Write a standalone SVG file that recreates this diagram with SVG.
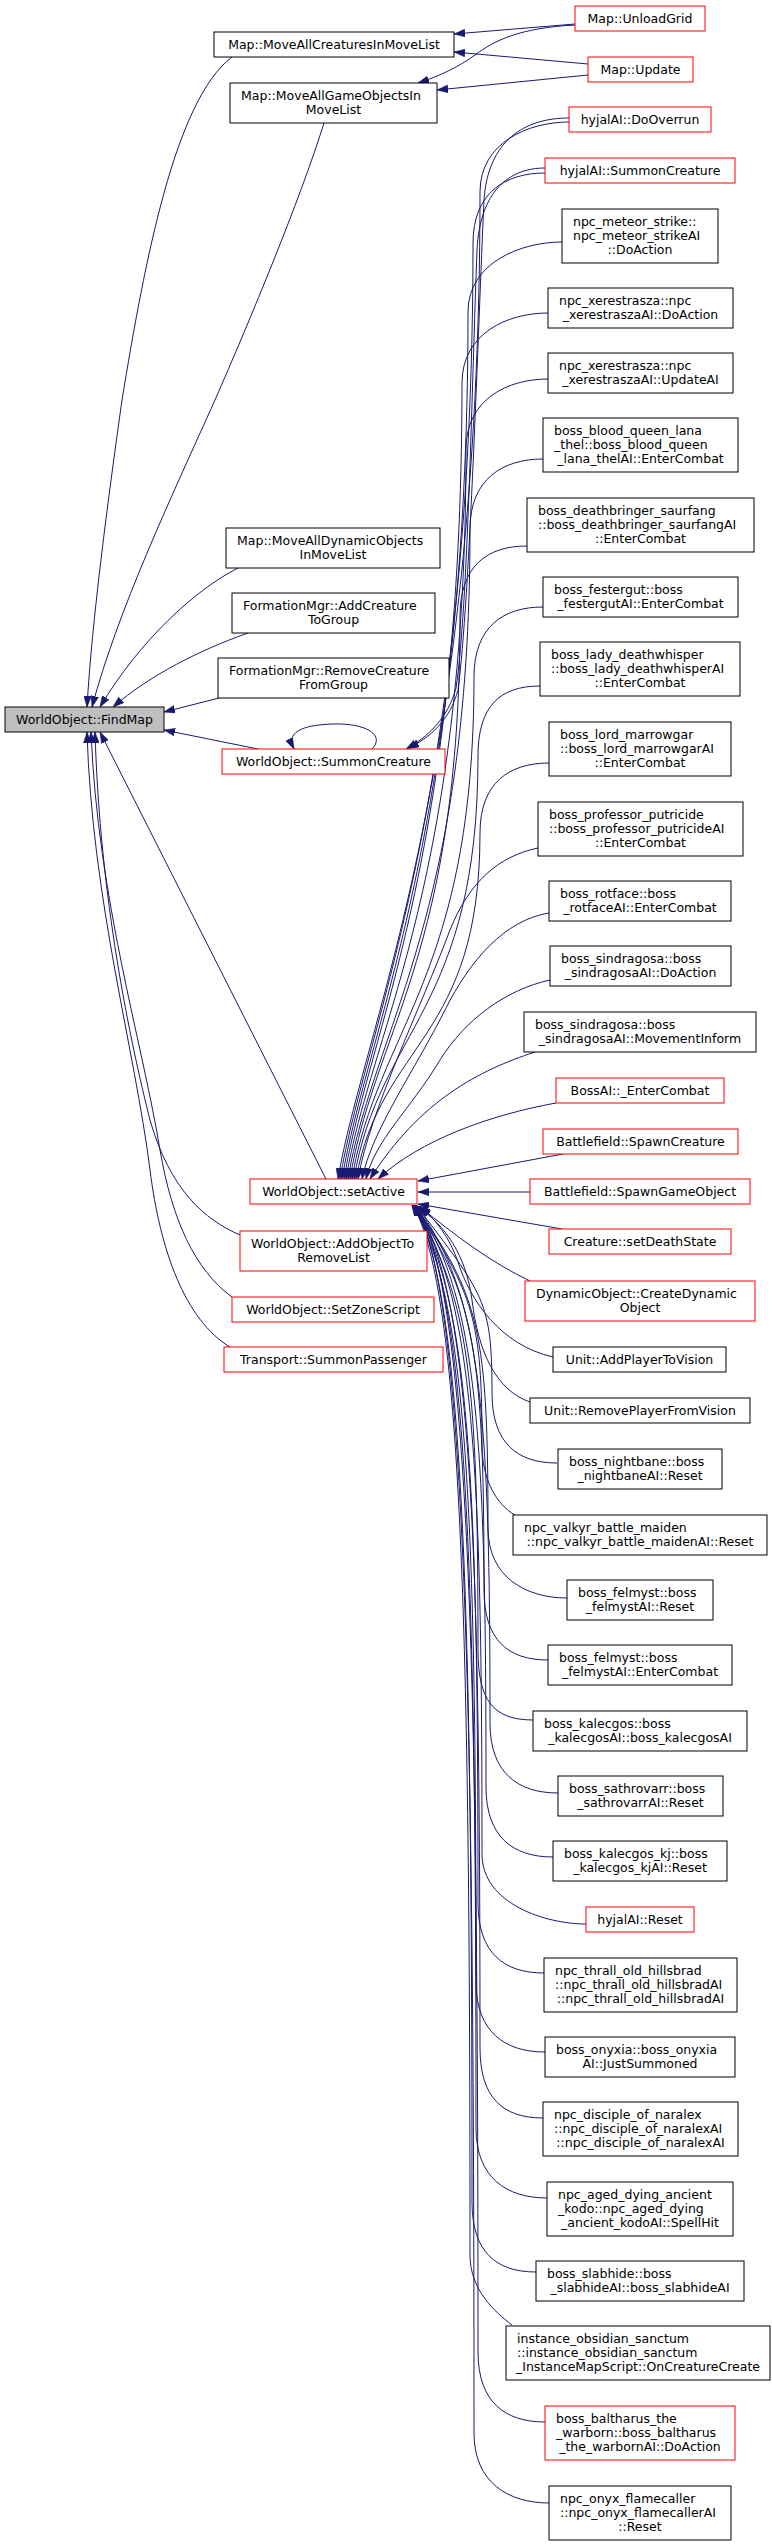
<svg xmlns="http://www.w3.org/2000/svg" width="772" height="2547" viewBox="0 0 772 2547">
<style>
rect{fill:#fff;stroke:#000;stroke-width:1}
.r rect{stroke:#f00}
.g rect{fill:#bfbfbf}
text{font-family:"DejaVu Sans",sans-serif;font-size:12.5px;fill:#000}
.c{text-anchor:middle}
#edges path{fill:none;stroke:#191970;stroke-width:1;marker-end:url(#ah)}
</style>
<defs>
<marker id="ah" markerUnits="userSpaceOnUse" markerWidth="11" markerHeight="8" viewBox="0 0 10 7" refX="10" refY="3.5" orient="auto">
<path d="M0,0 L10,3.5 L0,7 Z" fill="#191970" stroke="#191970" stroke-width="0.5"/>
</marker>
</defs>
<rect x="0" y="0" width="772" height="2547" style="fill:#fff;stroke:none"/>
<g id="edges">
<path d="M575,24 L454,34"/>
<path d="M575,25 C520,28 495,40 475,55 C460,66 440,76 418,83"/>
<path d="M588,64 L454,52"/>
<path d="M588,75 L437,90"/>
<path d="M232,57 C175,100 145,260 122,400 C108,500 92,620 87,707"/>
<path d="M324,123 C300,200 250,320 215,400 C170,500 118,610 92,707"/>
<path d="M238,568 C195,590 140,640 100,707"/>
<path d="M248,633 C200,650 150,675 113,707"/>
<path d="M219,698 L164,712"/>
<path d="M258,749 L164,730"/>
<path d="M372,749 C385,736 368,723 333,724 C300,725 286,733 294,749"/>
<path d="M569,118 C525,118 488,140 484,200 C478,330 470,600 458,690 C450,720 430,738 408,748"/>
<path d="M545,168 C510,168 480,190 477,250 C472,380 468,610 456,688 C448,718 428,737 406,749"/>
<path d="M326,1179 L100,732"/>
<path d="M240,1235 C205,1220 170,1190 150,1120 C130,1040 100,900 95,732"/>
<path d="M232,1297 C195,1270 172,1220 160,1150 C142,1040 98,900 91,732"/>
<path d="M230,1347 C185,1320 160,1250 150,1170 C135,1050 92,900 87,732"/>
<path d="M569,122 C529,122 480,142 480,192 C480,784 363,1029 338,1179"/>
<path d="M545,173 C505,173 473,193 473,243 C473,805 365,1029 340,1179"/>
<path d="M562,242 C522,242 468,262 468,312 C468,832 367,1029 342,1179"/>
<path d="M548,313 C508,313 462,333 462,383 C462,861 369,1029 344,1179"/>
<path d="M548,379 C508,379 466,399 466,449 C466,887 371,1029 346,1179"/>
<path d="M543,459 C503,459 470,479 470,529 C470,919 373,1029 348,1179"/>
<path d="M527,546 C487,546 460,566 460,616 C460,954 375,1029 350,1179"/>
<path d="M543,607 C503,607 474,627 474,677 C474,978 377,1029 352,1179"/>
<path d="M540,686 C500,686 478,706 478,756 C478,1010 379,1029 354,1179"/>
<path d="M549,763 C509,763 480,783 480,833 C480,1041 381,1041 356,1179"/>
<path d="M538,848 C500,856 470,880 450,930 C420,1010 370,1110 358,1179"/>
<path d="M549,913 C505,920 470,960 445,1010 C415,1070 372,1130 362,1179"/>
<path d="M550,980 C505,990 465,1020 440,1060 C410,1110 375,1140 366,1179"/>
<path d="M535,1052 C480,1070 420,1100 370,1179"/>
<path d="M556,1103 C490,1115 420,1140 378,1179"/>
<path d="M563,1154 L418,1181"/>
<path d="M530,1192 L418,1192"/>
<path d="M562,1229 L418,1204"/>
<path d="M530,1281 C490,1262 455,1235 420,1207"/>
<path d="M553,1357 C500,1345 470,1300 458,1262 C450,1238 435,1218 419,1206"/>
<path d="M530,1402 C495,1390 478,1350 472,1300 C466,1255 445,1225 418,1207"/>
<path d="M557,1463 C517,1463 492,1443 492,1393 C492,1300 484,1295 416,1205"/>
<path d="M515,1515 C497,1505 482,1480 482,1445 C482,1320 474,1295 415,1205"/>
<path d="M567,1598 C527,1598 488,1578 488,1528 C488,1334 480,1295 414,1205"/>
<path d="M548,1660 C508,1660 484,1640 484,1590 C484,1359 476,1295 413,1205"/>
<path d="M533,1720 C493,1720 478,1700 478,1650 C478,1383 470,1295 412,1205"/>
<path d="M558,1793 C518,1793 490,1773 490,1723 C490,1412 482,1295 416,1205"/>
<path d="M553,1857 C513,1857 486,1837 486,1787 C486,1438 478,1295 415,1205"/>
<path d="M586,1924 C546,1924 482,1904 482,1854 C482,1465 474,1295 414,1205"/>
<path d="M544,1973 C504,1973 478,1953 478,1903 C478,1484 470,1295 413,1205"/>
<path d="M545,2052 C505,2052 476,2032 476,1982 C476,1516 468,1295 412,1205"/>
<path d="M543,2118 C503,2118 480,2098 480,2048 C480,1542 472,1295 416,1205"/>
<path d="M547,2198 C507,2198 476,2178 476,2128 C476,1574 468,1295 415,1205"/>
<path d="M536,2272 C496,2272 472,2252 472,2202 C472,1604 464,1295 414,1205"/>
<path d="M512,2325 C495,2312 470,2290 470,2255 C470,1625 462,1295 413,1205"/>
<path d="M545,2422 C505,2422 478,2402 478,2352 C478,1664 470,1295 416,1205"/>
<path d="M549,2503 C509,2503 474,2483 474,2433 C474,1696 466,1295 415,1205"/>
</g>
<g id="n1" class="r"><rect x="575" y="6" width="130" height="25"/><text class="c" x="640" y="23">Map::UnloadGrid</text></g>
<g id="n2"><rect x="214" y="32" width="240" height="25"/><text class="c" x="334" y="49">Map::MoveAllCreaturesInMoveList</text></g>
<g id="n3" class="r"><rect x="588" y="57" width="105" height="25"/><text class="c" x="640.5" y="74">Map::Update</text></g>
<g id="n4"><rect x="230" y="83" width="207" height="40"/><text x="241" y="99.5">Map::MoveAllGameObjectsIn</text><text class="c" x="333.5" y="114">MoveList</text></g>
<g id="n5" class="r"><rect x="569" y="107" width="142" height="25"/><text class="c" x="640" y="124">hyjalAI::DoOverrun</text></g>
<g id="n6" class="r"><rect x="545" y="158" width="190" height="25"/><text class="c" x="640" y="175">hyjalAI::SummonCreature</text></g>
<g id="n7"><rect x="562" y="209" width="156" height="54"/><text x="573" y="225.5">npc_meteor_strike::</text><text x="573" y="240">npc_meteor_strikeAI</text><text class="c" x="640" y="254">::DoAction</text></g>
<g id="n8"><rect x="548" y="288" width="185" height="40"/><text x="559" y="304.5">npc_xerestrasza::npc</text><text class="c" x="640.5" y="319">_xerestraszaAI::DoAction</text></g>
<g id="n9"><rect x="548" y="353" width="185" height="40"/><text x="559" y="369.5">npc_xerestrasza::npc</text><text class="c" x="640.5" y="384">_xerestraszaAI::UpdateAI</text></g>
<g id="n10"><rect x="543" y="418" width="195" height="54"/><text x="554" y="434.5">boss_blood_queen_lana</text><text x="554" y="449">_thel::boss_blood_queen</text><text class="c" x="640.5" y="463">_lana_thelAI::EnterCombat</text></g>
<g id="n11"><rect x="527" y="498" width="227" height="54"/><text x="538" y="514.5">boss_deathbringer_saurfang</text><text x="538" y="529">::boss_deathbringer_saurfangAI</text><text class="c" x="640.5" y="543">::EnterCombat</text></g>
<g id="n12"><rect x="226" y="528" width="214" height="40"/><text x="237" y="544.5">Map::MoveAllDynamicObjects</text><text class="c" x="333" y="559">InMoveList</text></g>
<g id="n13"><rect x="543" y="577" width="195" height="40"/><text x="554" y="593.5">boss_festergut::boss</text><text class="c" x="640.5" y="608">_festergutAI::EnterCombat</text></g>
<g id="n14"><rect x="232" y="593" width="203" height="40"/><text x="243" y="609.5">FormationMgr::AddCreature</text><text class="c" x="333.5" y="624">ToGroup</text></g>
<g id="n15"><rect x="218" y="658" width="231" height="40"/><text x="229" y="674.5">FormationMgr::RemoveCreature</text><text class="c" x="333.5" y="689">FromGroup</text></g>
<g id="n16"><rect x="540" y="642" width="200" height="54"/><text x="551" y="658.5">boss_lady_deathwhisper</text><text x="551" y="673">::boss_lady_deathwhisperAI</text><text class="c" x="640" y="687">::EnterCombat</text></g>
<g id="n17" class="g"><rect x="5" y="707" width="159" height="25"/><text class="c" x="84.5" y="724">WorldObject::FindMap</text></g>
<g id="n18" class="r"><rect x="222" y="749" width="223" height="25"/><text class="c" x="333.5" y="766">WorldObject::SummonCreature</text></g>
<g id="n19"><rect x="549" y="722" width="182" height="54"/><text x="560" y="738.5">boss_lord_marrowgar</text><text x="560" y="753">::boss_lord_marrowgarAI</text><text class="c" x="640" y="767">::EnterCombat</text></g>
<g id="n20"><rect x="538" y="802" width="205" height="54"/><text x="549" y="818.5">boss_professor_putricide</text><text x="549" y="833">::boss_professor_putricideAI</text><text class="c" x="640.5" y="847">::EnterCombat</text></g>
<g id="n21"><rect x="549" y="881" width="182" height="40"/><text x="560" y="897.5">boss_rotface::boss</text><text class="c" x="640" y="912">_rotfaceAI::EnterCombat</text></g>
<g id="n22"><rect x="550" y="946" width="181" height="40"/><text x="561" y="962.5">boss_sindragosa::boss</text><text class="c" x="640.5" y="977">_sindragosaAI::DoAction</text></g>
<g id="n23"><rect x="524" y="1012" width="232" height="40"/><text x="535" y="1028.5">boss_sindragosa::boss</text><text class="c" x="640" y="1043">_sindragosaAI::MovementInform</text></g>
<g id="n24" class="r"><rect x="556" y="1078" width="168" height="25"/><text class="c" x="640" y="1095">BossAI::_EnterCombat</text></g>
<g id="n25" class="r"><rect x="543" y="1129" width="195" height="25"/><text class="c" x="640.5" y="1146">Battlefield::SpawnCreature</text></g>
<g id="n26" class="r"><rect x="250" y="1179" width="167" height="25"/><text class="c" x="333.5" y="1196">WorldObject::setActive</text></g>
<g id="n27" class="r"><rect x="530" y="1179" width="220" height="25"/><text class="c" x="640" y="1196">Battlefield::SpawnGameObject</text></g>
<g id="n28" class="r"><rect x="240" y="1231" width="187" height="40"/><text x="251" y="1247.5">WorldObject::AddObjectTo</text><text class="c" x="333.5" y="1262">RemoveList</text></g>
<g id="n29" class="r"><rect x="549" y="1229" width="182" height="25"/><text class="c" x="640" y="1246">Creature::setDeathState</text></g>
<g id="n30" class="r"><rect x="525" y="1281" width="230" height="40"/><text x="536" y="1297.5">DynamicObject::CreateDynamic</text><text class="c" x="640" y="1312">Object</text></g>
<g id="n31" class="r"><rect x="232" y="1297" width="202" height="25"/><text class="c" x="333" y="1314">WorldObject::SetZoneScript</text></g>
<g id="n32" class="r"><rect x="224" y="1347" width="219" height="25"/><text class="c" x="333.5" y="1364">Transport::SummonPassenger</text></g>
<g id="n33"><rect x="553" y="1347" width="173" height="25"/><text class="c" x="639.5" y="1364">Unit::AddPlayerToVision</text></g>
<g id="n34"><rect x="530" y="1398" width="220" height="25"/><text class="c" x="640" y="1415">Unit::RemovePlayerFromVision</text></g>
<g id="n35"><rect x="558" y="1449" width="164" height="40"/><text x="569" y="1465.5">boss_nightbane::boss</text><text class="c" x="640" y="1480">_nightbaneAI::Reset</text></g>
<g id="n36"><rect x="513" y="1515" width="254" height="40"/><text x="524" y="1531.5">npc_valkyr_battle_maiden</text><text class="c" x="640" y="1546">::npc_valkyr_battle_maidenAI::Reset</text></g>
<g id="n37"><rect x="567" y="1580" width="146" height="40"/><text x="578" y="1596.5">boss_felmyst::boss</text><text class="c" x="640" y="1611">_felmystAI::Reset</text></g>
<g id="n38"><rect x="548" y="1645" width="184" height="40"/><text x="559" y="1661.5">boss_felmyst::boss</text><text class="c" x="640" y="1676">_felmystAI::EnterCombat</text></g>
<g id="n39"><rect x="533" y="1711" width="214" height="40"/><text x="544" y="1727.5">boss_kalecgos::boss</text><text class="c" x="640" y="1742">_kalecgosAI::boss_kalecgosAI</text></g>
<g id="n40"><rect x="558" y="1776" width="165" height="40"/><text x="569" y="1792.5">boss_sathrovarr::boss</text><text class="c" x="640.5" y="1807">_sathrovarrAI::Reset</text></g>
<g id="n41"><rect x="553" y="1841" width="174" height="40"/><text x="564" y="1857.5">boss_kalecgos_kj::boss</text><text class="c" x="640" y="1872">_kalecgos_kjAI::Reset</text></g>
<g id="n42" class="r"><rect x="586" y="1907" width="108" height="25"/><text class="c" x="640" y="1924">hyjalAI::Reset</text></g>
<g id="n43"><rect x="544" y="1958" width="193" height="54"/><text x="555" y="1974.5">npc_thrall_old_hillsbrad</text><text x="555" y="1989">::npc_thrall_old_hillsbradAI</text><text class="c" x="640.5" y="2003">::npc_thrall_old_hillsbradAI</text></g>
<g id="n44"><rect x="545" y="2037" width="190" height="40"/><text x="556" y="2053.5">boss_onyxia::boss_onyxia</text><text class="c" x="640" y="2068">AI::JustSummoned</text></g>
<g id="n45"><rect x="543" y="2102" width="195" height="54"/><text x="554" y="2118.5">npc_disciple_of_naralex</text><text x="554" y="2133">::npc_disciple_of_naralexAI</text><text class="c" x="640.5" y="2147">::npc_disciple_of_naralexAI</text></g>
<g id="n46"><rect x="547" y="2182" width="186" height="54"/><text x="558" y="2198.5">npc_aged_dying_ancient</text><text x="558" y="2213">_kodo::npc_aged_dying</text><text class="c" x="640" y="2227">_ancient_kodoAI::SpellHit</text></g>
<g id="n47"><rect x="536" y="2261" width="208" height="40"/><text x="547" y="2277.5">boss_slabhide::boss</text><text class="c" x="640" y="2292">_slabhideAI::boss_slabhideAI</text></g>
<g id="n48"><rect x="506" y="2326" width="264" height="54"/><text x="517" y="2342.5">instance_obsidian_sanctum</text><text x="517" y="2357">::instance_obsidian_sanctum</text><text class="c" x="638" y="2371">_InstanceMapScript::OnCreatureCreate</text></g>
<g id="n49" class="r"><rect x="545" y="2406" width="190" height="54"/><text x="556" y="2422.5">boss_baltharus_the</text><text x="556" y="2437">_warborn::boss_baltharus</text><text class="c" x="640" y="2451">_the_warbornAI::DoAction</text></g>
<g id="n50"><rect x="549" y="2486" width="182" height="54"/><text x="560" y="2502.5">npc_onyx_flamecaller</text><text x="560" y="2517">::npc_onyx_flamecallerAI</text><text class="c" x="640" y="2531">::Reset</text></g>
</svg>
